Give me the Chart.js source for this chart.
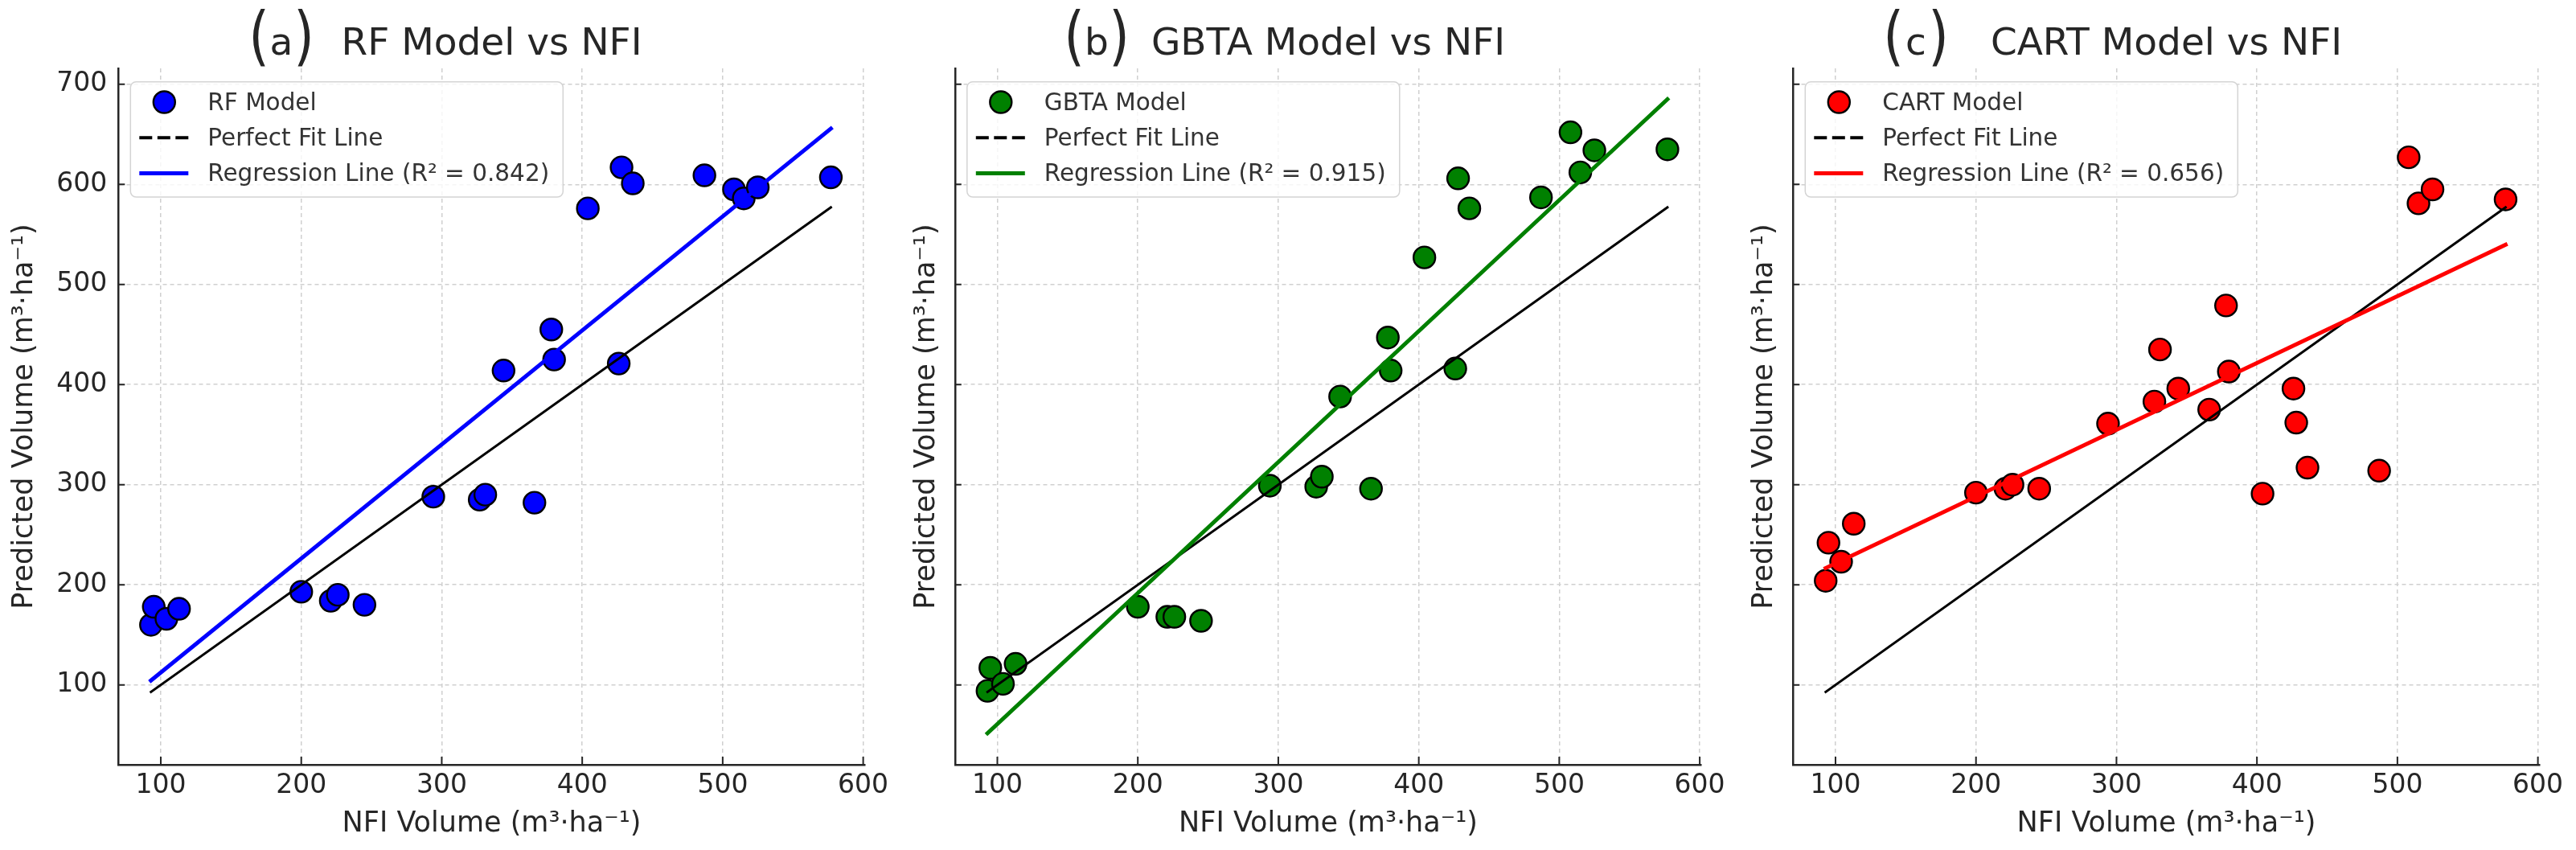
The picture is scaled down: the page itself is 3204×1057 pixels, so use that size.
<!DOCTYPE html>
<html>
<head>
<meta charset="utf-8">
<title>Model vs NFI</title>
<script src="https://cdn.jsdelivr.net/npm/chart.js@4.4.1/dist/chart.umd.min.js"></script>
<style>
  html, body { margin: 0; padding: 0; background: #fff; }
  #wrap { position: relative; width: 3204px; height: 1057px; }
  #wrap canvas { position: absolute; left: 0; top: 0; }
</style>
</head>
<body>
<div id="wrap">
  <canvas id="panel0" width="3204" height="1057"></canvas>
  <canvas id="panel1" width="3204" height="1057"></canvas>
  <canvas id="panel2" width="3204" height="1057"></canvas>
</div>
<script>
// NFI plot volumes (x) shared by the three panels
const nfiVolume = [93, 95, 104, 113, 200, 221, 226, 245, 294, 327, 331, 344,
                   366, 378, 380, 404, 426, 428, 436, 487, 508, 515, 525, 577];
// predicted volume of each model, same order as nfiVolume
const rfPredicted   = [160, 178, 166, 176, 193, 184, 190, 180, 288, 285, 290, 414,
                       282, 455, 425, 576, 421, 617, 601, 609, 595, 586, 597, 607];
const gbtaPredicted = [94, 117, 101, 121, 178, 168, 168, 164, 299, 298, 308, 388,
                       296, 447, 414, 527, 416, 606, 576, 587, 652, 612, 634, 635];
const cartPredicted = [204, 242, 223, 261, 292, 296, 300, 296, 361, 383, 435, 396,
                       375, 479, 413, 291, 396, 362, 317, 314, 627, 581, 595, 585];

const modelNames = ['RF', 'GBTA', 'CART'];
const panelTags = ['a', 'b', 'c'];
const r2Values = ['0.842', '0.915', '0.656'];
// regression line values at the two ends of fitRange
const regStart = [104.3, 51.7, 216.7];
const regEnd = [655.7, 685.0, 539.8];
const fitRange = [93, 577];

const xTicks = [100, 200, 300, 400, 500, 600];
const yTicks = [100, 200, 300, 400, 500, 600, 700];
const xRange = [69.85, 601.2];
const yRange = [20.2, 715.9];

const modelColors = ['#0000ff', '#008000', '#ff0000'];
const predicted = [rfPredicted, gbtaPredicted, cartPredicted];

// layout (pixels)
const W = 3204, H = 1057;
const PLOT_LEFT = [147.3, 1187.8, 2230.3];
const PLOT_WIDTH = 928.4;
const PLOT_TOP = 85, PLOT_BOTTOM = 951;
const Y_AXIS_W = [147.3, 60, 60];
const Y_TITLE_PAD = [10, 4, 4];
const TAG_CENTER = [202.7, 176.2, 152.7];
const FONT = "'DejaVu Sans', sans-serif";
const INK = '#262626';

// matplotlib style ticks pointing into the plot
const innerTicks = {
  id: 'innerTicks',
  afterDatasetsDraw(chart) {
    const { ctx, chartArea: a, scales } = chart;
    ctx.save();
    ctx.strokeStyle = INK;
    ctx.lineWidth = 2;
    ctx.beginPath();
    scales.x.ticks.forEach(t => {
      const px = scales.x.getPixelForValue(t.value);
      ctx.moveTo(px, a.bottom);
      ctx.lineTo(px, a.bottom - 10);
    });
    scales.y.ticks.forEach(t => {
      const py = scales.y.getPixelForValue(t.value);
      ctx.moveTo(a.left, py);
      ctx.lineTo(a.left + 8, py);
    });
    ctx.stroke();
    ctx.restore();
  }
};

// legend box in the upper left corner of the plot
const boxLegend = {
  id: 'boxLegend',
  afterDraw(chart) {
    const { ctx, chartArea: a } = chart;
    const x0 = a.left + 15, y0 = 101.7, w = 538, h = 143.3;
    ctx.save();
    ctx.beginPath();
    if (ctx.roundRect) ctx.roundRect(x0, y0, w, h, 7); else ctx.rect(x0, y0, w, h);
    ctx.fillStyle = 'rgba(255,255,255,0.8)';
    ctx.fill();
    ctx.strokeStyle = '#d4d4d4';
    ctx.lineWidth = 1.5;
    ctx.stroke();

    chart.data.datasets.forEach((ds, k) => {
      const cy = y0 + 25.3 + 44.3 * k;
      if (ds.legendKind === 'marker') {
        ctx.beginPath();
        ctx.arc(x0 + 42, cy, ds.pointRadius, 0, Math.PI * 2);
        ctx.fillStyle = ds.backgroundColor;
        ctx.fill();
        ctx.lineWidth = ds.borderWidth;
        ctx.strokeStyle = ds.borderColor;
        ctx.stroke();
      } else {
        ctx.beginPath();
        ctx.moveTo(x0 + 11, cy);
        ctx.lineTo(x0 + 72, cy);
        ctx.strokeStyle = ds.borderColor;
        ctx.lineCap = 'butt';
        if (ds.legendKind === 'dash') {
          ctx.setLineDash([16, 6.5]);
          ctx.lineWidth = 4;
        } else {
          ctx.setLineDash([]);
          ctx.lineWidth = ds.borderWidth;
        }
        ctx.stroke();
        ctx.setLineDash([]);
      }
      ctx.fillStyle = '#333333';
      ctx.font = `29.5px ${FONT}`;
      ctx.textAlign = 'left';
      ctx.textBaseline = 'alphabetic';
      ctx.fillText(ds.label, x0 + 96, cy + 9.5);
    });
    ctx.restore();
  }
};

// title centred on the plot, panel tag "(a)" placed to its left
const panelTitle = {
  id: 'panelTitle',
  afterDraw(chart, args, opts) {
    const { ctx, chartArea: a } = chart;
    ctx.save();
    ctx.fillStyle = INK;
    ctx.font = `47px ${FONT}`;
    ctx.textAlign = 'center';
    ctx.textBaseline = 'alphabetic';
    ctx.fillText(opts.text, (a.left + a.right) / 2, 68.3);
    const tx = a.left + opts.tagCenter;
    ctx.fillText(opts.tag, tx, 68.3);
    [['(', -28], [')', 28]].forEach(([ch, dx]) => {
      ctx.save();
      ctx.translate(tx + dx, 54);
      ctx.scale(1.4, 1.72);
      ctx.textBaseline = 'middle';
      ctx.fillText(ch, 0, -1.5);
      ctx.restore();
    });
    ctx.restore();
  }
};

const gridStyle = { color: '#d0d0d0', lineWidth: 1.5, drawTicks: false };
const borderStyle = { display: true, color: INK, width: 2.5, dash: [5, 4] };

modelNames.forEach((name, i) => {
  const color = modelColors[i];
  const points = nfiVolume.map((x, k) => ({ x: x, y: predicted[i][k] }));

  new Chart(document.getElementById('panel' + i), {
    type: 'scatter',
    data: {
      datasets: [
        {
          label: name + ' Model',
          data: points,
          backgroundColor: color,
          borderColor: '#000000',
          borderWidth: 2.4,
          pointRadius: 13.5,
          pointHoverRadius: 13.5,
          order: 2,
          legendKind: 'marker'
        },
        {
          label: 'Perfect Fit Line',
          data: fitRange.map(v => ({ x: v, y: v })),
          showLine: true,
          borderColor: '#000000',
          borderWidth: 3,
          borderCapStyle: 'square',
          pointRadius: 0,
          order: 1,
          legendKind: 'dash'
        },
        {
          label: `Regression Line (R² = ${r2Values[i]})`,
          data: [{ x: fitRange[0], y: regStart[i] }, { x: fitRange[1], y: regEnd[i] }],
          showLine: true,
          borderColor: color,
          borderWidth: 5,
          borderCapStyle: 'square',
          pointRadius: 0,
          order: 0,
          legendKind: 'line'
        }
      ]
    },
    options: {
      responsive: false,
      animation: false,
      devicePixelRatio: 1,
      layout: {
        padding: {
          left: PLOT_LEFT[i] - Y_AXIS_W[i],
          right: W - PLOT_LEFT[i] - PLOT_WIDTH,
          top: PLOT_TOP,
          bottom: 0
        }
      },
      plugins: {
        legend: { display: false },
        tooltip: { enabled: false },
        panelTitle: { text: `${name} Model vs NFI`, tag: panelTags[i], tagCenter: TAG_CENTER[i] }
      },
      scales: {
        x: {
          type: 'linear',
          min: xRange[0],
          max: xRange[1],
          afterBuildTicks: s => { s.ticks = xTicks.map(v => ({ value: v })); },
          afterFit: s => { s.height = H - PLOT_BOTTOM; },
          grid: gridStyle,
          border: borderStyle,
          ticks: { font: { family: FONT, size: 33 }, color: INK, padding: 7, maxRotation: 0 },
          title: {
            display: true,
            text: 'NFI Volume (m³·ha⁻¹)',
            font: { family: FONT, size: 35 },
            color: INK,
            padding: { top: 0, bottom: 11 }
          }
        },
        y: {
          type: 'linear',
          min: yRange[0],
          max: yRange[1],
          afterBuildTicks: s => { s.ticks = yTicks.map(v => ({ value: v })); },
          afterFit: s => { s.width = Y_AXIS_W[i]; },
          grid: gridStyle,
          border: borderStyle,
          ticks: { display: i === 0, font: { family: FONT, size: 33 }, color: INK, padding: 14 },
          title: {
            display: true,
            text: 'Predicted Volume (m³·ha⁻¹)',
            font: { family: FONT, size: 35 },
            color: INK,
            padding: { top: Y_TITLE_PAD[i], bottom: 0 }
          }
        }
      }
    },
    plugins: [innerTicks, boxLegend, panelTitle]
  });
});
</script>
</body>
</html>
